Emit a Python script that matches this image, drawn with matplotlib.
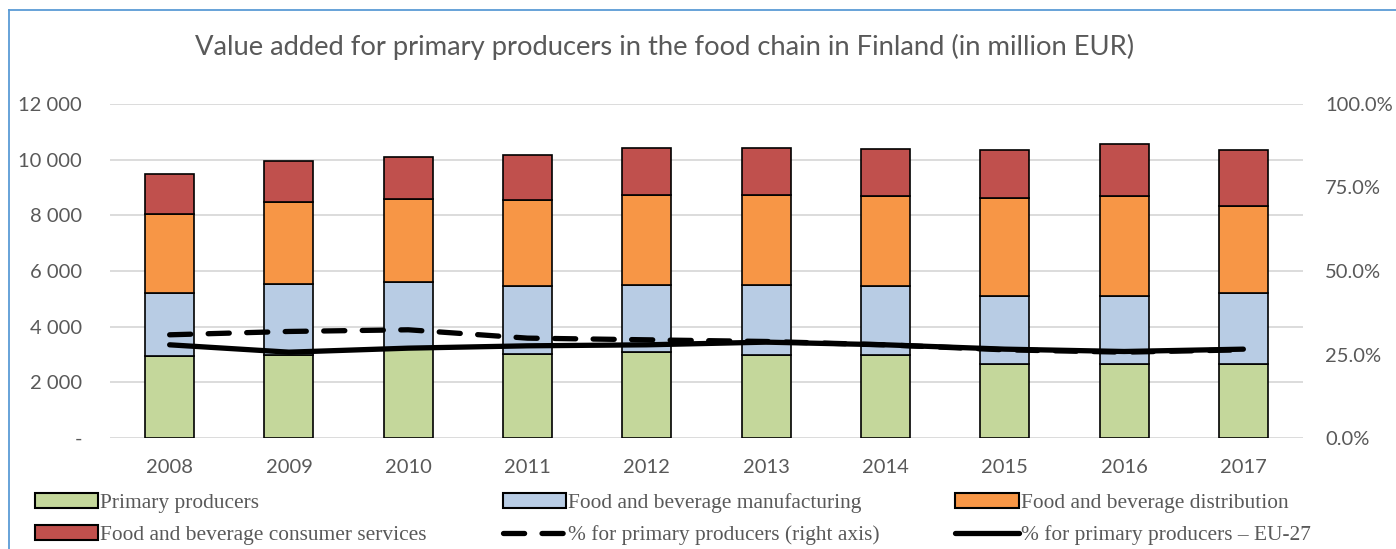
import matplotlib.pyplot as plt
import numpy as np
from matplotlib.lines import Line2D
from matplotlib.patches import Patch

# Données (millions EUR)
years = ['2008', '2009', '2010', '2011', '2012', '2013', '2014', '2015', '2016', '2017']
primary = [2930, 3000, 3200, 3020, 3080, 2970, 2970, 2670, 2670, 2670]
manufacturing = [2280, 2520, 2400, 2450, 2430, 2540, 2500, 2440, 2440, 2540]
distribution = [2820, 2960, 2970, 3090, 3230, 3220, 3210, 3500, 3600, 3140]
services = [1470, 1480, 1510, 1610, 1690, 1690, 1700, 1740, 1860, 1980]
pct_primary = [30.9, 31.9, 32.4, 29.9, 29.4, 28.9, 27.9, 26.4, 25.7, 26.4]
pct_eu27 = [27.9, 25.7, 26.9, 27.6, 27.9, 28.7, 27.9, 26.6, 25.9, 26.6]

left_ticks = [0, 2000, 4000, 6000, 8000, 10000, 12000]
left_labels = ['-', '2 000', '4 000', '6 000', '8 000', '10 000', '12 000']
right_ticks = [0, 25, 50, 75, 100]
right_labels = ['0.0%', '25.0%', '50.0%', '75.0%', '100.0%']

c_green = '#C4D79B'
c_blue = '#B8CCE4'
c_orange = '#F79646'
c_red = '#C0504D'
gris = '#595959'

fig = plt.figure(figsize=(13.96, 5.49), dpi=100)
ax = fig.add_axes([110 / 1396, 111 / 549, 1193 / 1396, 334 / 549])

x = np.arange(len(years))
w = 0.41
bottom = np.zeros(len(years))
for vals, col in [(primary, c_green), (manufacturing, c_blue),
                  (distribution, c_orange), (services, c_red)]:
    ax.bar(x, vals, w, bottom=bottom, color=col, edgecolor='black', linewidth=1.2, zorder=2)
    bottom += np.array(vals)

ax.set_xlim(-0.5, len(years) - 0.5)
ax.set_ylim(0, 12000)
ax.set_yticks(left_ticks)
ax.set_yticklabels(left_labels)
ax.set_xticks(x)
ax.set_xticklabels(years)
ax.grid(axis='y', color='#D9D9D9', linewidth=1.3, zorder=0)
ax.set_axisbelow(True)
for s in ax.spines.values():
    s.set_visible(False)
ax.tick_params(axis='y', length=0, pad=20, labelsize=14.5, labelcolor=gris)
ax.tick_params(axis='x', length=0, pad=15, labelsize=14.5, labelcolor=gris)
for lab in ax.get_xticklabels() + ax.get_yticklabels():
    lab.set_fontfamily('Lato')

ax2 = ax.twinx()
ax2.set_ylim(0, 100)
ax2.set_yticks(right_ticks)
ax2.set_yticklabels(right_labels)
for s in ax2.spines.values():
    s.set_visible(False)
ax2.tick_params(axis='y', length=0, pad=16, labelsize=14.5, labelcolor=gris)
for lab in ax2.get_yticklabels():
    lab.set_fontfamily('Lato')
ax2.plot(x, pct_primary, color='black', linewidth=3.8, dashes=(4, 3.3),
         solid_capstyle='round', dash_capstyle='round', zorder=3)
ax2.plot(x, pct_eu27, color='black', linewidth=3.8, solid_capstyle='round', zorder=3)

fig.text(665 / 1396, 1 - 47 / 549, 'Value added for primary producers in the food chain in Finland (in million EUR)',
         ha='center', va='center', fontsize=19.7, color=gris, fontfamily='Lato')

# Légende
handles = [
    Patch(facecolor=c_green, edgecolor='black', linewidth=1.5),
    Patch(facecolor=c_red, edgecolor='black', linewidth=1.5),
    Patch(facecolor=c_blue, edgecolor='black', linewidth=1.5),
    Line2D([], [], color='black', linewidth=3.8, dashes=(4, 3.3), dash_capstyle='round'),
    Patch(facecolor=c_orange, edgecolor='black', linewidth=1.5),
    Line2D([], [], color='black', linewidth=3.8, solid_capstyle='round'),
]
labels = ['Primary producers', 'Food and beverage consumer services',
          'Food and beverage manufacturing', '% for primary producers (right axis)',
          'Food and beverage distribution', '% for primary producers \u2013 EU-27']
leg = fig.legend(handles, labels, ncol=3, loc='upper left',
                 bbox_to_anchor=(35 / 1396, 1 - 493 / 549), frameon=False,
                 prop={'family': 'Liberation Serif', 'size': 15.4},
                 handlelength=2.95, handleheight=0.65, handletextpad=0.1,
                 columnspacing=3.55, labelspacing=0.58, borderpad=0, borderaxespad=0)
for t in leg.get_texts():
    t.set_color(gris)

# Cadre bleu
fig.add_artist(Line2D([9 / 1396, 9 / 1396], [0, 1 - 10 / 549], color='#5B9BD5', linewidth=1.3))
fig.add_artist(Line2D([9 / 1396, 1], [1 - 10 / 549, 1 - 10 / 549], color='#5B9BD5', linewidth=1.3))

fig.savefig('out.png', dpi=100)
